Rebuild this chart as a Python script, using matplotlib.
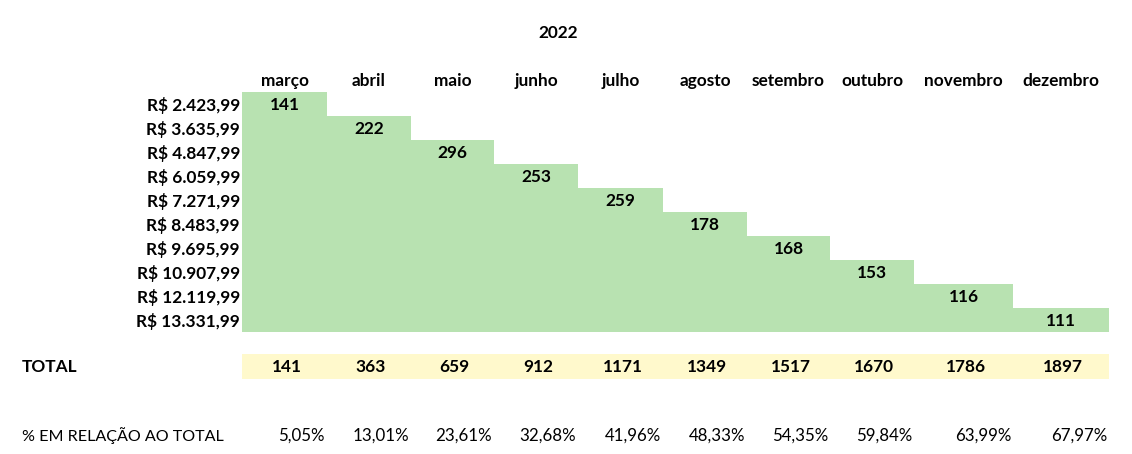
import matplotlib
matplotlib.use("Agg")
import matplotlib.pyplot as plt

# ---- data ----
title = "2022"
months = ["março", "abril", "maio", "junho", "julho", "agosto",
          "setembro", "outubro", "novembro", "dezembro"]
price_labels = ["R$ 2.423,99", "R$ 3.635,99", "R$ 4.847,99", "R$ 6.059,99",
                "R$ 7.271,99", "R$ 8.483,99", "R$ 9.695,99", "R$ 10.907,99",
                "R$ 12.119,99", "R$ 13.331,99"]
values = [141, 222, 296, 253, 259, 178, 168, 153, 116, 111]
totals = [141, 363, 659, 912, 1171, 1349, 1517, 1670, 1786, 1897]
percents = ["5,05%", "13,01%", "23,61%", "32,68%", "41,96%", "48,33%",
            "54,35%", "59,84%", "63,99%", "67,97%"]
total_label = "TOTAL"
pct_label = "% EM RELAÇÃO AO TOTAL"

# ---- layout (pixel grid) ----
W, H = 1132, 454
col_edges = [242, 327, 411, 494, 578, 663, 747, 830, 914, 1013, 1109]
row_top0 = 92
row_h = 24
total_top, total_h = 354, 25
pct_y = 436
header_y = 81
title_x, title_y = 558, 33

GREEN = "#B8E2B1"
YELLOW = "#FFF9CC"
FONT = ["Lato", "DejaVu Sans"]
FS = 12.4

fig = plt.figure(figsize=(W / 100, H / 100), dpi=100)
ax = fig.add_axes([0, 0, 1, 1])
ax.set_xlim(0, W)
ax.set_ylim(H, 0)
ax.axis("off")

n = len(months)
lefts = col_edges[:-1]
widths = [col_edges[i + 1] - col_edges[i] for i in range(n)]
centers = [l + w / 2 for l, w in zip(lefts, widths)]
bottom_all = row_top0 + row_h * len(price_labels)

# green staircase: column j filled from row j down to last row
tops = [row_top0 + row_h * j for j in range(n)]
ax.bar(lefts, [bottom_all - t for t in tops], width=widths, bottom=tops,
       align="edge", color=GREEN, linewidth=0)

# yellow totals band
ax.bar(lefts, [total_h] * n, width=widths, bottom=[total_top] * n,
       align="edge", color=YELLOW, linewidth=0)

# title
ax.text(title_x, title_y, title, ha="center", va="center", fontsize=FS,
        fontweight="bold", family=FONT)

# headers
for c, m in zip(centers, months):
    ax.text(c, header_y, m, ha="center", va="center", fontsize=FS,
            fontweight="bold", family=FONT)

# row labels
for i, lab in enumerate(price_labels):
    ax.text(240, row_top0 + row_h * i + row_h / 2 + 1, lab, ha="right",
            va="center", fontsize=FS, fontweight="bold", family=FONT)

# diagonal values
for j, v in enumerate(values):
    ax.text(centers[j], row_top0 + row_h * j + row_h / 2 + 1, str(v),
            ha="center", va="center", fontsize=FS, fontweight="bold",
            family=FONT)

# totals
ax.text(22, total_top + total_h / 2, total_label, ha="left", va="center",
        fontsize=FS, fontweight="bold", family=FONT)
for c, t in zip(centers, totals):
    ax.text(c + 2, total_top + total_h / 2, str(t), ha="center", va="center",
            fontsize=FS, fontweight="bold", family=FONT)

# percents
ax.text(22, pct_y, pct_label, ha="left", va="center", fontsize=11.6,
        family=FONT)
for j, p in enumerate(percents):
    ax.text(col_edges[j + 1] - 2, pct_y, p, ha="right", va="center",
            fontsize=12.2, family=FONT)

fig.savefig("out.png", dpi=100, facecolor="white")
